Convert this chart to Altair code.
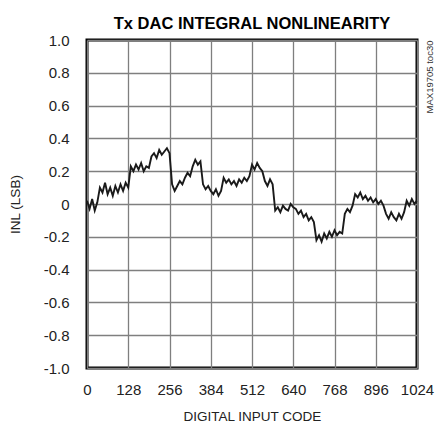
import altair as alt
import pandas as pd

codes = list(range(0, 1024, 8)) + [1023]
inl = [
    0.02, -0.03, 0.03, -0.04, 0.01,
    0.10, 0.07, 0.13, 0.06, 0.10, 0.05, 0.11, 0.07, 0.12, 0.08, 0.13, 0.10,
    0.23, 0.20, 0.24, 0.21, 0.25, 0.20, 0.23, 0.22,
    0.29, 0.31, 0.28, 0.33, 0.30, 0.32, 0.34, 0.31,
    0.12, 0.08, 0.11, 0.14, 0.12, 0.16, 0.19, 0.17, 0.23,
    0.27, 0.24, 0.26,
    0.12, 0.09, 0.11, 0.08, 0.06, 0.09, 0.05, 0.08,
    0.16, 0.13, 0.15, 0.12, 0.14, 0.11, 0.15, 0.13, 0.16, 0.14, 0.17,
    0.24, 0.21, 0.25, 0.22, 0.20,
    0.14, 0.11, 0.15, 0.12,
    -0.04, -0.02, -0.05, -0.01, -0.03, -0.04, 0.00, -0.02,
    -0.03, -0.06, -0.04, -0.08, -0.06, -0.10, -0.08, -0.11,
    -0.22, -0.19, -0.23, -0.18, -0.21, -0.17, -0.20, -0.16, -0.19, -0.17, -0.18,
    -0.06, -0.03, -0.05, -0.01,
    0.06, 0.04, 0.07, 0.03, 0.05, 0.02, 0.04, 0.01, 0.03, 0.00, 0.02, -0.01,
    -0.06, -0.09, -0.05, -0.08, -0.10, -0.06, -0.09, -0.05,
    0.02, -0.01, 0.03, 0.00, 0.02,
]
x_ticks = [0, 128, 256, 384, 512, 640, 768, 896, 1024]
y_ticks = [-1.0, -0.8, -0.6, -0.4, -0.2, 0.0, 0.2, 0.4, 0.6, 0.8, 1.0]

df = pd.DataFrame({"code": codes, "inl": inl})

FONT = "Liberation Sans, Arial, sans-serif"

line = alt.Chart(df).mark_line(color="#1a1a1a", strokeWidth=1.9).encode(
    x=alt.X("code:Q",
            scale=alt.Scale(domain=[0, 1024], nice=False),
            axis=alt.Axis(values=x_ticks, title="DIGITAL INPUT CODE", format="d",
                          labelOverlap=False, labelFlush=False,
                          labelPadding=14, titlePadding=12)),
    y=alt.Y("inl:Q",
            scale=alt.Scale(domain=[-1, 1], nice=False),
            axis=alt.Axis(values=y_ticks, title="INL (LSB)",
                          labelOverlap=False, labelFlush=False,
                          labelPadding=18, titlePadding=21,
                          labelExpr="datum.value == 0 ? '0' : (datum.value < 0 ? '-' + format(-datum.value, '.1f') : format(datum.value, '.1f'))")),
)

note = alt.Chart(pd.DataFrame({"t": ["MAX19705 toc30"]})).mark_text(
    angle=270, fontSize=9.5, font=FONT, color="#333333", align="center", baseline="middle"
).encode(x=alt.value(343), y=alt.value(37), text="t:N")

chart = alt.layer(line, note).properties(
    width=330,
    height=328,
    padding={"left": 79, "top": 32, "right": 18, "bottom": 56},
    autosize=alt.AutoSizeParams(type="none"),
    title=alt.Title("Tx DAC INTEGRAL NONLINEARITY", font=FONT, fontSize=16.5,
                    fontWeight="bold", color="black", anchor="middle", offset=1),
).configure_view(
    stroke="black", strokeWidth=3
).configure_axis(
    grid=True, gridColor="#7f7f7f", gridWidth=1.3, ticks=False, domain=False,
    labelFont=FONT, labelFontSize=15, labelColor="#222222",
    titleFont=FONT, titleFontSize=13.5, titleFontWeight="normal", titleColor="#222222",
)

chart.save("out.html", embed_options={"renderer": "svg", "actions": False})
